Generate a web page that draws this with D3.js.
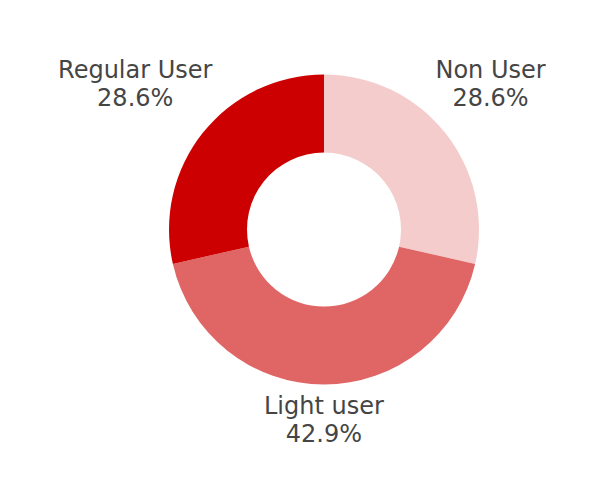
<!DOCTYPE html>
<html>
<head>
<meta charset="utf-8">
<script src="https://cdn.jsdelivr.net/npm/d3@7"></script>
<style>
  body { margin: 0; background: #fff; }
  text { font-family: "DejaVu Sans", "Noto Sans", sans-serif; fill: #454545; }
</style>
</head>
<body>
<div id="chart"></div>
<script>
const categories = ['Non User', 'Light user', 'Regular User'];
const values = [2, 3, 2];
const colors = ['#f4cccc', '#e06666', '#cc0000'];

const width = 600;
const height = 500;
const cx = 324;
const cy = 229.5;
const outerR = 155;
const innerR = 77;
const labelR = 162;

const svg = d3.select('#chart')
  .append('svg')
  .attr('width', width)
  .attr('height', height);

const g = svg.append('g').attr('transform', `translate(${cx},${cy})`);

const pie = d3.pie().sort(null).value((d) => d.value);
const arcs = pie(categories.map((c, i) => ({ name: c, value: values[i], color: colors[i] })));
const total = d3.sum(values);

const arc = d3.arc().innerRadius(innerR).outerRadius(outerR);

g.selectAll('path')
  .data(arcs)
  .join('path')
  .attr('d', arc)
  .attr('fill', (d) => d.data.color);

const labels = g.selectAll('g.label')
  .data(arcs)
  .join('g')
  .attr('class', 'label');

labels.append('text')
  .attr('text-anchor', 'middle')
  .attr('y', 0)
  .style('font-size', '24px')
  .text((d) => d.data.name);

labels.append('text')
  .attr('text-anchor', 'middle')
  .attr('y', 28)
  .style('font-size', '24px')
  .text((d) => (d.data.value / total * 100).toFixed(1) + '%');

// push each label block out so its nearest corner sits on labelR,
// direction squeezed a bit toward the vertical axis
labels.each(function (d) {
  const box = this.getBBox();
  const a = (d.startAngle + d.endAngle) / 2;
  let ux = Math.sin(a) * 0.88;
  let uy = -Math.sign(Math.cos(a)) * Math.sqrt(1 - ux * ux);
  const sx = Math.abs(ux) < 0.1 ? 0 : Math.sign(ux);
  const sy = Math.abs(uy) < 0.1 ? 0 : Math.sign(uy);
  const bx = labelR * ux + sx * box.width / 2;
  const by = labelR * uy + sy * box.height / 2;
  const ox = box.x + box.width / 2;
  const oy = box.y + box.height / 2;
  d3.select(this).attr('transform', `translate(${bx - ox},${by - oy})`);
});
</script>
</body>
</html>
